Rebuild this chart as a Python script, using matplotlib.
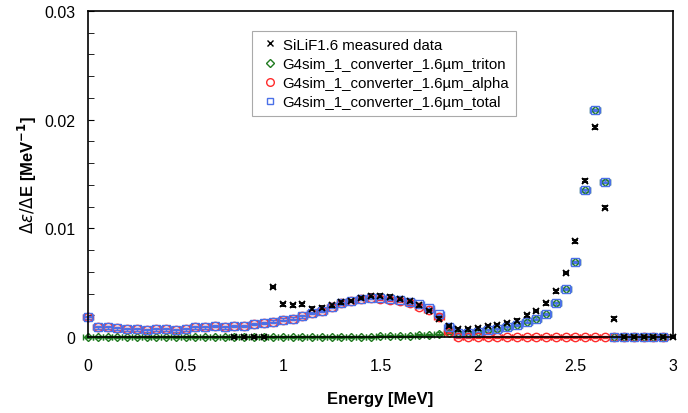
import numpy as np
import matplotlib
matplotlib.use("Agg")
import matplotlib.pyplot as plt
from matplotlib.lines import Line2D
from matplotlib.ticker import MultipleLocator

plt.rcParams['font.family'] = ['Liberation Sans', 'DejaVu Sans']

# energie des bins simules (MeV)
e_sim = [0.00, 0.05, 0.10, 0.15, 0.20, 0.25, 0.30, 0.35, 0.40, 0.45,
         0.50, 0.55, 0.60, 0.65, 0.70, 0.75, 0.80, 0.85, 0.90, 0.95,
         1.00, 1.05, 1.10, 1.15, 1.20, 1.25, 1.30, 1.35, 1.40, 1.45,
         1.50, 1.55, 1.60, 1.65, 1.70, 1.75, 1.80, 1.85, 1.90, 1.95,
         2.00, 2.05, 2.10, 2.15, 2.20, 2.25, 2.30, 2.35, 2.40, 2.45,
         2.50, 2.55, 2.60, 2.65, 2.70, 2.75, 2.80, 2.85, 2.90, 2.95]

total = [0.0018, 0.0009, 0.0009, 0.0008, 0.0007, 0.0007, 0.0006, 0.0007, 0.0007, 0.0006,
         0.0007, 0.0009, 0.0009, 0.0010, 0.0009, 0.0010, 0.0010, 0.0012, 0.0013, 0.0014,
         0.0016, 0.0017, 0.0019, 0.0022, 0.0024, 0.0028, 0.0031, 0.0033, 0.0035, 0.0036,
         0.0036, 0.0035, 0.0034, 0.0032, 0.0030, 0.0027, 0.0021, 0.0009, 0.0004, 0.0004,
         0.0005, 0.0006, 0.0007, 0.0009, 0.0011, 0.0014, 0.0017, 0.0021, 0.0031, 0.0044,
         0.0069, 0.0135, 0.0209, 0.0143, 0.0, 0.0, 0.0, 0.0, 0.0, 0.0]

triton = [0.0, 0.0, 0.0, 0.0, 0.0, 0.0, 0.0, 0.0, 0.0, 0.0,
          0.0, 0.0, 0.0, 0.0, 0.0, 0.0, 0.0, 0.0, 0.0, 0.0,
          0.0, 0.0, 0.0, 0.0, 0.0, 0.0, 0.0, 0.0, 0.0, 0.0,
          0.0001, 0.0001, 0.0001, 0.0001, 0.0002, 0.0002, 0.0003, 0.0004, 0.0004, 0.0004,
          0.0005, 0.0006, 0.0007, 0.0009, 0.0011, 0.0014, 0.0017, 0.0021, 0.0031, 0.0044,
          0.0069, 0.0135, 0.0209, 0.0143, 0.0, 0.0, 0.0, 0.0, 0.0, 0.0]

alpha = [0.0018, 0.0009, 0.0009, 0.0008, 0.0007, 0.0007, 0.0006, 0.0007, 0.0007, 0.0006,
         0.0007, 0.0009, 0.0009, 0.0010, 0.0009, 0.0010, 0.0010, 0.0012, 0.0013, 0.0014,
         0.0016, 0.0017, 0.0019, 0.0022, 0.0024, 0.0028, 0.0031, 0.0033, 0.0035, 0.0036,
         0.0035, 0.0034, 0.0033, 0.0031, 0.0028, 0.0025, 0.0018, 0.0005, 0.0, 0.0,
         0.0, 0.0, 0.0, 0.0, 0.0, 0.0, 0.0, 0.0, 0.0, 0.0,
         0.0, 0.0, 0.0, 0.0, 0.0, 0.0, 0.0, 0.0, 0.0, 0.0]

# donnees mesurees SiLiF1.6
e_mes = [0.75, 0.80, 0.85, 0.90, 0.95, 1.00, 1.05, 1.10, 1.15, 1.20,
         1.25, 1.30, 1.35, 1.40, 1.45, 1.50, 1.55, 1.60, 1.65, 1.70,
         1.75, 1.80, 1.85, 1.90, 1.95, 2.00, 2.05, 2.10, 2.15, 2.20,
         2.25, 2.30, 2.35, 2.40, 2.45, 2.50, 2.55, 2.60, 2.65, 2.70,
         2.75, 2.80, 2.85, 2.90, 2.95, 3.00]
mesure = [0.0, 0.0, 0.0, 0.0, 0.0046, 0.0030, 0.0029, 0.0030, 0.0026, 0.0027,
          0.0029, 0.0032, 0.0033, 0.0036, 0.0038, 0.0038, 0.0037, 0.0035, 0.0033, 0.0029,
          0.0024, 0.0017, 0.0010, 0.0007, 0.0007, 0.0008, 0.0010, 0.0011, 0.0013, 0.0015,
          0.0020, 0.0024, 0.0031, 0.0042, 0.0059, 0.0088, 0.0144, 0.0193, 0.0119, 0.0017,
          0.0, 0.0, 0.0, 0.0, 0.0, 0.0]

x_ticks = [0, 0.5, 1, 1.5, 2, 2.5, 3]
x_labels = ['0', '0.5', '1', '1.5', '2', '2.5', '3']
y_ticks = [0, 0.01, 0.02, 0.03]
y_labels = ['0', '0.01', '0.02', '0.03']

vert = '#1f7a1f'
rouge = '#ff2a2a'
bleu = '#4a70e8'

fig = plt.figure(figsize=(6.88, 4.14), dpi=100)
ax = fig.add_axes([0.128, 0.1836, 0.850, 0.7874])

ax.errorbar(e_sim, triton, xerr=0.025, yerr=0.00012, marker='D', color=vert,
            linestyle='none', capsize=2, elinewidth=0.9, markersize=4.5,
            markerfacecolor='none', clip_on=False)
ax.errorbar(e_sim, alpha, xerr=0.025, yerr=0.00012, marker='o', color=rouge,
            linestyle='none', capsize=2, elinewidth=0.9, markersize=6,
            markerfacecolor='none', clip_on=False)
ax.errorbar(e_sim, total, xerr=0.025, yerr=0.00012, marker='s', color=bleu,
            linestyle='none', capsize=2, elinewidth=0.9, markersize=5.5,
            markerfacecolor='none', clip_on=False)
ax.errorbar(e_mes, mesure, yerr=0.00012, marker='x', color='black',
            linestyle='none', capsize=2, elinewidth=0.8, markersize=5,
            markeredgewidth=1.3, clip_on=False)

ax.set_xlim(0, 3)
ax.set_ylim(0, 0.03)
ax.set_xticks(x_ticks, x_labels)
ax.set_yticks(y_ticks, y_labels)
ax.yaxis.set_minor_locator(MultipleLocator(0.002))
ax.tick_params(axis='x', length=0, pad=15, labelsize=11.5)
ax.tick_params(axis='y', which='both', direction='in', length=4, labelsize=11.5, pad=9)
for s in ax.spines.values():
    s.set_linewidth(1.2)

ax.set_xlabel('Energy [MeV]', fontweight='bold', fontsize=12)
ax.xaxis.set_label_coords(0.5, -0.165)
ax.set_ylabel(r'$\Delta\varepsilon/\Delta$E [MeV$^{\mathbf{-1}}$]', fontweight='bold', fontsize=12, labelpad=4)

handles = [
    Line2D([], [], linestyle='none', marker='x', color='black', markersize=5),
    Line2D([], [], linestyle='none', marker='D', color=vert, markerfacecolor='none', markersize=4.5),
    Line2D([], [], linestyle='none', marker='o', color=rouge, markerfacecolor='none', markersize=5.5),
    Line2D([], [], linestyle='none', marker='s', color=bleu, markerfacecolor='none', markersize=5),
]
labels = ['SiLiF1.6 measured data',
          'G4sim_1_converter_1.6µm_triton',
          'G4sim_1_converter_1.6µm_alpha',
          'G4sim_1_converter_1.6µm_total']
leg = ax.legend(handles, labels, loc='upper left', bbox_to_anchor=(0.28, 0.939),
                borderaxespad=0, fontsize=10.8, fancybox=False, framealpha=1,
                edgecolor='#aaaaaa', handletextpad=0.1, handlelength=1.5,
                borderpad=0.45, labelspacing=0.35)
leg.get_frame().set_linewidth(0.8)

fig.savefig('out.png', dpi=100)
